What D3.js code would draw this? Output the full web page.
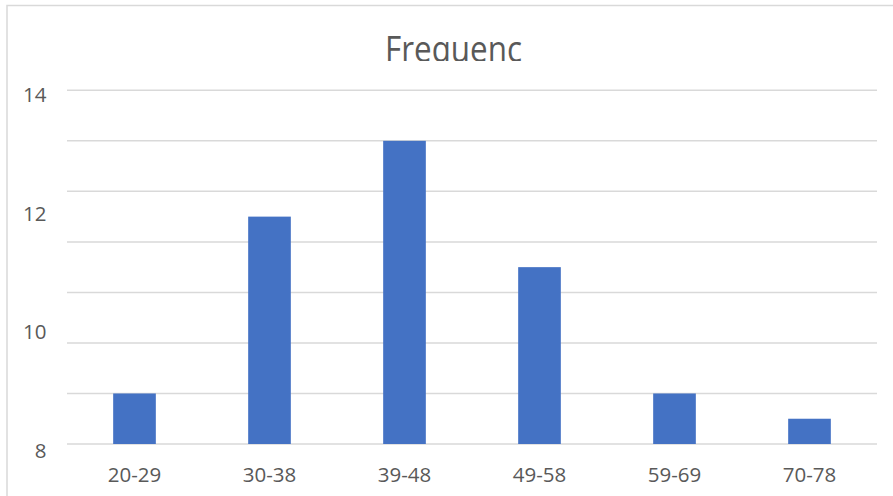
<!DOCTYPE html>
<html>
<head>
<meta charset="utf-8">
<script src="https://cdn.jsdelivr.net/npm/d3@7"></script>
<style>
  html, body { margin: 0; padding: 0; background: #fff; }
  text { font-family: "Open Sans", "Liberation Sans", sans-serif; fill: #595959; }
</style>
</head>
<body>
<svg id="chart"></svg>
<script>
const width = 893, height = 496;

// data
const categories = ['20-29', '30-38', '39-48', '49-58', '59-69', '70-78'];
const frequency = [2, 9, 12, 7, 2, 1];
const gridTicks = [0, 2, 4, 6, 8, 10, 12, 14];
const axisLabels = ['14', '12', '10', '8'];   // the labels as printed on the left
const titleText = 'Frequenc';

const svg = d3.select('#chart')
  .attr('width', width).attr('height', height)
  .attr('viewBox', `0 0 ${width} ${height}`);

// chart frame, runs off the right and bottom edge
svg.append('rect')
  .attr('x', 7).attr('y', 5.5)
  .attr('width', width + 20).attr('height', height + 20)
  .attr('fill', 'none').attr('stroke', '#d9d9d9').attr('stroke-width', 1.5);

const plot = { left: 67, right: 877, top: 90.3, bottom: 444 };

const x = d3.scaleBand()
  .domain(categories)
  .range([plot.left, plot.right])
  .paddingInner(0.684)
  .paddingOuter(0.342);

const y = d3.scaleLinear()
  .domain([0, 14])
  .range([plot.bottom, plot.top]);

// printed labels sit on their own spacing
const yLabel = d3.scalePoint()
  .domain(axisLabels)
  .range([102, 458]);

// gridlines
svg.append('g').selectAll('line')
  .data(gridTicks)
  .join('line')
  .attr('x1', plot.left).attr('x2', plot.right)
  .attr('y1', d => y(d)).attr('y2', d => y(d))
  .attr('stroke', '#d9d9d9').attr('stroke-width', 1.5);

// bars
svg.append('g').selectAll('rect')
  .data(frequency)
  .join('rect')
  .attr('x', (d, i) => x(categories[i]))
  .attr('width', x.bandwidth())
  .attr('y', d => y(d))
  .attr('height', d => y(0) - y(d))
  .attr('fill', '#4472c4');

// y labels
svg.append('g').selectAll('text')
  .data(axisLabels)
  .join('text')
  .attr('x', 46.5)
  .attr('y', d => yLabel(d))
  .attr('text-anchor', 'end')
  .style('font-size', '20.5px')
  .text(d => d);

// x labels
svg.append('g').selectAll('text')
  .data(categories)
  .join('text')
  .attr('x', d => x(d) + x.bandwidth() / 2)
  .attr('y', 481.7)
  .attr('text-anchor', 'middle')
  .style('font-size', '20.5px')
  .text(d => d);

// title, cut off just under the baseline like the picture
svg.append('clipPath').attr('id', 'title-clip')
  .append('rect').attr('x', 0).attr('y', 0).attr('width', width).attr('height', 61);

svg.append('text')
  .attr('clip-path', 'url(#title-clip)')
  .attr('x', 385).attr('y', 62)
  .attr('textLength', 137).attr('lengthAdjust', 'spacingAndGlyphs')
  .style('font-size', '36px')
  .text(titleText);
</script>
</body>
</html>
